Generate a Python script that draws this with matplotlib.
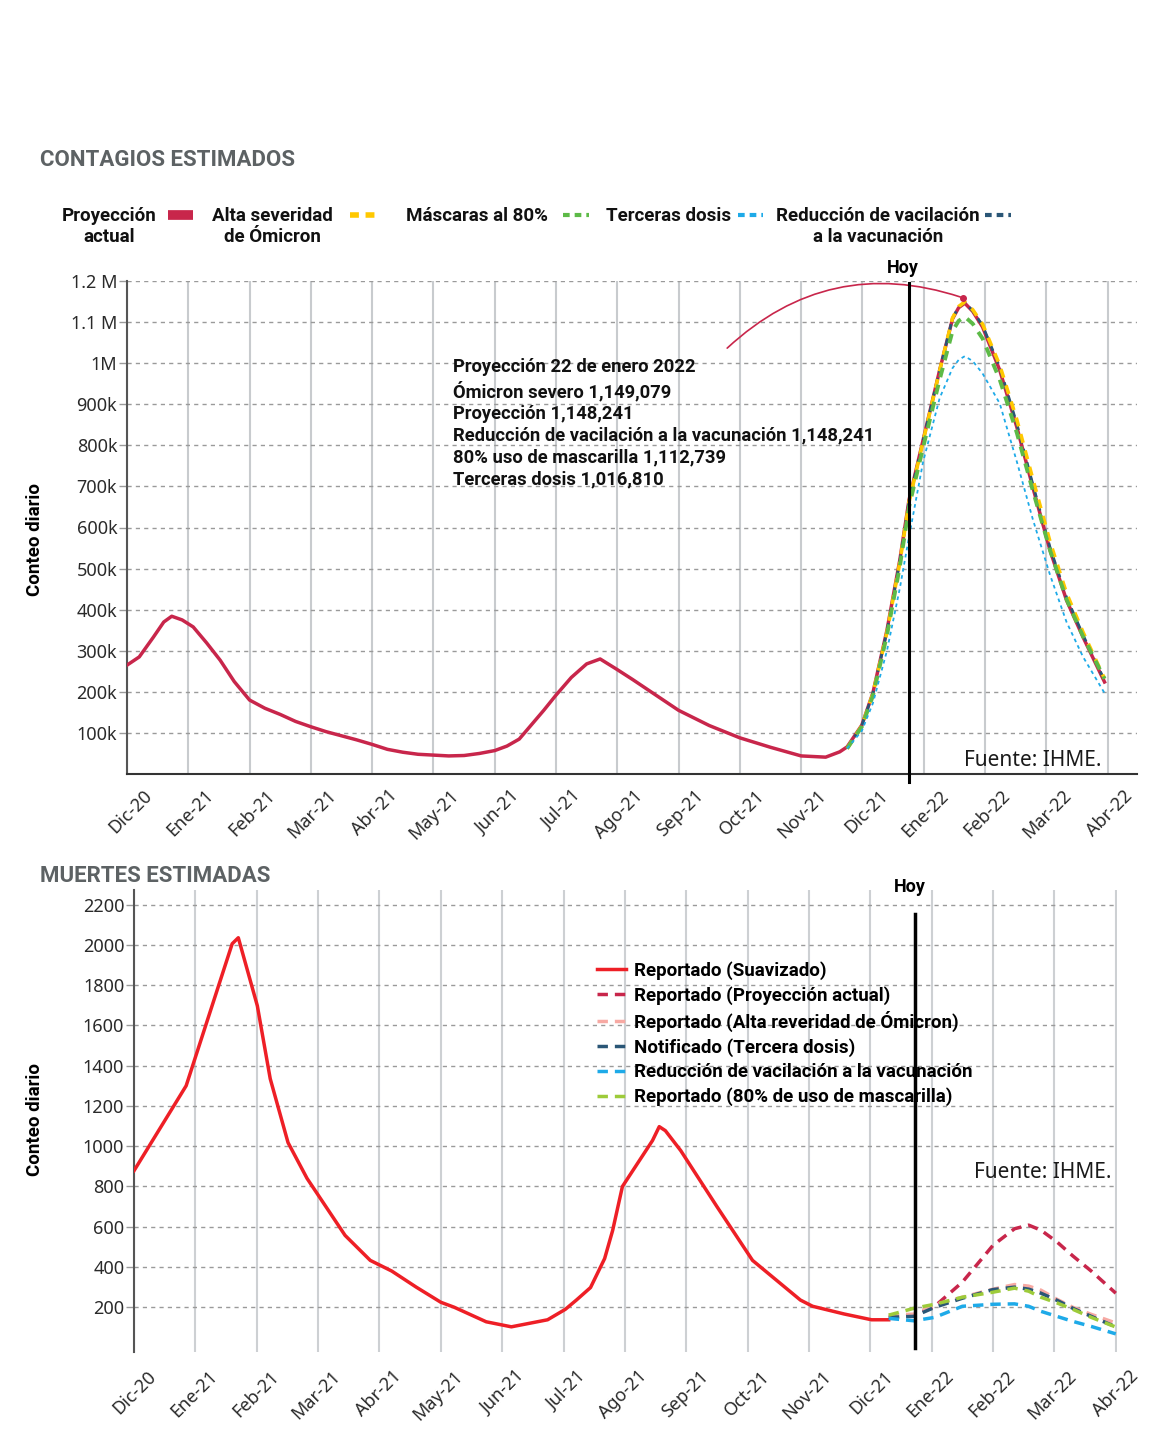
import matplotlib
matplotlib.use('Agg')
import matplotlib.pyplot as plt
from matplotlib.lines import Line2D
from matplotlib.transforms import ScaledTranslation

plt.rcParams['font.family'] = ['Noto Sans', 'DejaVu Sans']
COND = ['Roboto', 'DejaVu Sans']

meses = ['Dic-20', 'Ene-21', 'Feb-21', 'Mar-21', 'Abr-21', 'May-21', 'Jun-21',
         'Jul-21', 'Ago-21', 'Sep-21', 'Oct-21', 'Nov-21', 'Dic-21', 'Ene-22',
         'Feb-22', 'Mar-22', 'Abr-22']

# ---- contagios (x = meses desde dic-20, y = miles) ----
proy_x = [0, 0.2, 0.43, 0.6, 0.73, 0.9, 1.08, 1.3, 1.52, 1.75, 2.0, 2.25, 2.5, 2.75,
          3.0, 3.25, 3.5, 3.75, 4.0, 4.25, 4.5, 4.75, 5.0, 5.25, 5.5, 5.75, 6.0, 6.2,
          6.4, 6.6, 6.8, 7.0, 7.25, 7.5, 7.72, 7.99, 8.25, 8.5, 8.75, 9.0, 9.5, 10.0,
          10.5, 11.0, 11.4, 11.63, 11.75, 11.99, 12.17, 12.40, 12.61, 12.76, 12.99,
          13.26, 13.47, 13.57, 13.67, 13.8, 13.96, 14.24, 14.52, 14.78, 15.06, 15.33,
          15.60, 15.95]
proy_y = [265, 285, 333, 370, 384, 375, 358, 319, 277, 225, 180, 160, 145, 128,
          115, 103, 93, 83, 72, 60, 53, 48, 46, 44, 45, 50, 57, 68,
          85, 120, 155, 192, 235, 268, 280, 255, 230, 205, 180, 155, 118, 88,
          65, 44, 41, 54, 66, 119, 197, 350, 521, 667, 813,
          983, 1108, 1135, 1146, 1126, 1088, 983, 844, 698, 545, 423,
          333, 224]

esc_x = [11.75, 11.99, 12.17, 12.40, 12.61, 12.76, 12.99, 13.26, 13.47, 13.57, 13.67,
         13.8, 13.96, 14.24, 14.52, 14.78, 15.06, 15.33, 15.60, 15.95]
severidad = [62, 117, 195, 345, 515, 662, 810, 982, 1110, 1138, 1149, 1130, 1095, 995,
             862, 718, 566, 440, 345, 232]
vacilacion = [62, 118, 196, 347, 518, 665, 812, 983, 1109, 1137, 1148, 1127, 1092, 990,
              852, 705, 552, 430, 338, 228]
mascaras = [62, 115, 190, 338, 505, 650, 795, 960, 1078, 1103, 1113, 1096, 1060, 960,
            830, 690, 545, 425, 335, 232]
terceras = [62, 105, 172, 300, 452, 577, 760, 915, 988, 1008, 1017, 1005, 975, 902,
            760, 620, 485, 370, 285, 197]

y1_ticks = [100, 200, 300, 400, 500, 600, 700, 800, 900, 1000, 1100, 1200]
y1_labels = ['100k', '200k', '300k', '400k', '500k', '600k', '700k', '800k', '900k',
             '1M', '1.1 M', '1.2 M']

hoy_top = 12.76
pico = (13.64, 1159)
nota_inicio = (9.76, 1032)

# ---- muertes ----
rep_x = [0, 0.85, 1.60, 1.70, 2.01, 2.22, 2.51, 2.82, 3.44, 3.85, 4.2, 4.6, 5.0, 5.22,
         5.74, 6.15, 6.74, 7.03, 7.21, 7.44, 7.67, 7.80, 7.96, 8.45, 8.56, 8.66, 8.91,
         9.5, 10.08, 10.86, 11.06, 11.57, 12.02, 12.3]
rep_y = [878, 1300, 2005, 2035, 1697, 1335, 1018, 840, 557, 433, 380, 300, 225, 200,
         128, 103, 138, 190, 236, 298, 442, 581, 800, 1028, 1097, 1077, 978,
         700, 433, 236, 205, 167, 138, 138]

m_x = [12.3, 12.71, 13.05, 13.5, 14.0, 14.35, 14.58, 14.78, 15.04, 15.3, 15.6, 16.0]
m_actual = [151, 161, 205, 325, 508, 590, 608, 583, 525, 455, 380, 270]
m_severidad = [161, 166, 212, 250, 290, 313, 305, 285, 240, 200, 165, 122]
m_tercera = [150, 155, 200, 245, 288, 300, 290, 270, 235, 195, 155, 103]
m_vacilacion = [145, 133, 150, 205, 215, 217, 205, 180, 155, 130, 105, 68]
m_mascarilla = [161, 195, 215, 250, 275, 295, 280, 250, 222, 190, 150, 102]

y2_ticks = [200, 400, 600, 800, 1000, 1200, 1400, 1600, 1800, 2000, 2200]
hoy_bot = 12.72

CRIMSON = '#c8264b'
YELLOW = '#ffc800'
GREEN = '#5dba47'
LBLUE = '#1eaae8'
DBLUE = '#2a5676'
RED = '#ee1f26'
PINK = '#f7a9a3'
LIME = '#9dcb3a'

W, H = 1166, 1446
fx = lambda px: px / W
fy = lambda py: 1 - py / H

fig = plt.figure(figsize=(11.66, 14.46), dpi=100)


def style_axes(ax, pad, dx):
    ax.set_axisbelow(True)
    ax.xaxis.grid(True, color='#c8cbce', lw=1.5)
    ax.yaxis.grid(True, color='#9a9a9a', lw=1, linestyle=(0, (3, 3)))
    ax.spines['top'].set_visible(False)
    ax.spines['right'].set_visible(False)
    ax.spines['left'].set_color('#555555')
    ax.spines['left'].set_linewidth(1.5)
    ax.tick_params(axis='y', length=6, color='#9a9a9a', width=1, labelsize=13,
                   labelcolor='#2a2a2a', pad=1)
    ax.tick_params(axis='x', length=0, labelsize=13, labelcolor='#2a2a2a', pad=pad)
    ax.set_xticks(range(len(meses)))
    ax.set_xticklabels(meses, rotation=45, ha='right', va='top', rotation_mode='anchor')
    off = ScaledTranslation(dx / 100, 0, fig.dpi_scale_trans)
    for lab in ax.get_xticklabels():
        lab.set_transform(lab.get_transform() + off)


# ================= CONTAGIOS =================
ax1 = fig.add_axes([fx(127), fy(774), fx(1137) - fx(127), fy(281) - fy(774)])
style_axes(ax1, 9, 16)
ax1.spines['bottom'].set_color('#333333')
ax1.spines['bottom'].set_linewidth(1.5)
ax1.set_xlim(0, 16.48)
ax1.set_ylim(0, 1200)
ax1.set_yticks(y1_ticks)
ax1.set_yticklabels(y1_labels)

ax1.plot(proy_x, proy_y, color=CRIMSON, lw=2.5, zorder=3)
ax1.plot(esc_x, vacilacion, color=DBLUE, lw=2, linestyle=(0, (3, 2)), zorder=4)
ax1.plot(esc_x, severidad, color=YELLOW, lw=2.6, linestyle=(0, (2.5, 2.2)), zorder=5)
ax1.plot(esc_x, mascaras, color=GREEN, lw=2.8, linestyle=(0, (2.5, 2)), zorder=5)
ax1.plot(esc_x, terceras, color=LBLUE, lw=1.3, linestyle=(0, (2, 2)), zorder=6)

ax1.plot([hoy_top, hoy_top], [-20, 1195], color='black', lw=2.2, clip_on=False, zorder=7)
ax1.text(hoy_top - 0.1, 1232, 'Hoy', ha='center', va='center', fontsize=13,
         fontweight='bold', family=COND)

ax1.annotate('', xy=pico, xytext=nota_inicio,
             arrowprops=dict(arrowstyle='-', color=CRIMSON, lw=1.2,
                             connectionstyle='arc3,rad=-0.3'), annotation_clip=False)
ax1.plot([pico[0]], [pico[1]], 'o', color=CRIMSON, ms=4, zorder=8)

nota = ('Proyección 22 de enero 2022\n'
        'Ómicron severo 1,149,079\n'
        'Proyección 1,148,241\n'
        'Reducción de vacilación a la vacunación 1,148,241\n'
        '80% uso de mascarilla 1,112,739\n'
        'Terceras dosis 1,016,810')
fig.text(fx(453), fy(358), nota, ha='left', va='top', fontsize=13.2, fontweight='bold',
         family=COND, linespacing=1.27, color='#111111')
fig.text(fx(1101), fy(761), 'Fuente: IHME.', ha='right', va='center', fontsize=15,
         color='#1a1a1a')

fig.text(fx(40), fy(160), 'CONTAGIOS ESTIMADOS', ha='left', va='center', fontsize=16,
         fontweight='bold', family=COND, color='#5d6264')
fig.text(fx(35), fy(540), 'Conteo diario', rotation=90, ha='center', va='center',
         fontsize=13.5, fontweight='bold', family=COND)

# leyenda superior (texto y luego muestra)
leg_items = [
    ('Proyección\nactual', 157, CRIMSON, 168, 193, 'solid', 7),
    ('Alta severidad\nde Ómicron', 333, YELLOW, 350, 375, (0, (1.6, 1.2)), 4),
    ('Máscaras al 80%', 548, GREEN, 563, 589, (0, (1.6, 1.2)), 3),
    ('Terceras dosis', 731, LBLUE, 738, 763, (0, (1.6, 1.2)), 3),
    ('Reducción de vacilación\na la vacunación', 980, DBLUE, 985, 1011, (0, (1.6, 1.2)), 3),
]
for lab, xr, col, h0, h1, ls, lw in leg_items:
    fig.text(fx(xr), fy(207), lab, ha='right', va='top', multialignment='center',
             fontsize=13.5, fontweight='bold', family=COND, linespacing=1.2,
             color='#111111')
    fig.add_artist(Line2D([fx(h0), fx(h1)], [fy(215), fy(215)], transform=fig.transFigure,
                          color=col, lw=lw, linestyle=ls, solid_capstyle='butt',
                          dash_capstyle='butt'))

# ================= MUERTES =================
ax2 = fig.add_axes([fx(134), fy(1352), fx(1117) - fx(134), fy(890) - fy(1352)])
style_axes(ax2, 11, 13)
ax2.xaxis.grid(True, color='#cdd0d3', lw=1.5)
ax2.spines['bottom'].set_visible(False)
ax2.set_xlim(0, 16.02)
ax2.set_ylim(-22, 2272)
ax2.set_yticks(y2_ticks)

ax2.plot(rep_x, rep_y, color=RED, lw=2.5, label='Reportado (Suavizado)', zorder=3)
ax2.plot(m_x, m_actual, color=CRIMSON, lw=2.5, linestyle=(0, (3, 2)),
         label='Reportado (Proyección actual)', zorder=4)
ax2.plot(m_x, m_severidad, color=PINK, lw=2.5, linestyle=(0, (3, 2)),
         label='Reportado (Alta reveridad de Ómicron)', zorder=4)
ax2.plot(m_x, m_tercera, color=DBLUE, lw=2.5, linestyle=(0, (3, 2)),
         label='Notificado (Tercera dosis)', zorder=5)
ax2.plot(m_x, m_vacilacion, color=LBLUE, lw=2.5, linestyle=(0, (3, 2)),
         label='Reducción de vacilación a la vacunación', zorder=5)
ax2.plot(m_x, m_mascarilla, color=LIME, lw=2.5, linestyle=(0, (3, 2)),
         label='Reportado (80% de uso de mascarilla)', zorder=5)

ax2.plot([hoy_bot, hoy_bot], [0, 2155], color='black', lw=2.5, zorder=7)
ax2.text(hoy_bot - 0.08, 2286, 'Hoy', ha='center', va='center', fontsize=13,
         fontweight='bold', family=COND)

ax2.legend(loc='upper left', bbox_to_anchor=(fx(597), fy(961)),
           bbox_transform=fig.transFigure, frameon=False, borderpad=0,
           borderaxespad=0, handlelength=1.55, handletextpad=0.4,
           labelspacing=0.33, prop={'family': COND, 'weight': 'bold', 'size': 13.5})

fig.text(fx(1112), fy(1172), 'Fuente: IHME.', ha='right', va='center', fontsize=15,
         color='#1a1a1a')
fig.text(fx(40), fy(876), 'MUERTES ESTIMADAS', ha='left', va='center', fontsize=16,
         fontweight='bold', family=COND, color='#5d6264')
fig.text(fx(35), fy(1120), 'Conteo diario', rotation=90, ha='center', va='center',
         fontsize=13.5, fontweight='bold', family=COND)

fig.savefig('out.png', dpi=100)
